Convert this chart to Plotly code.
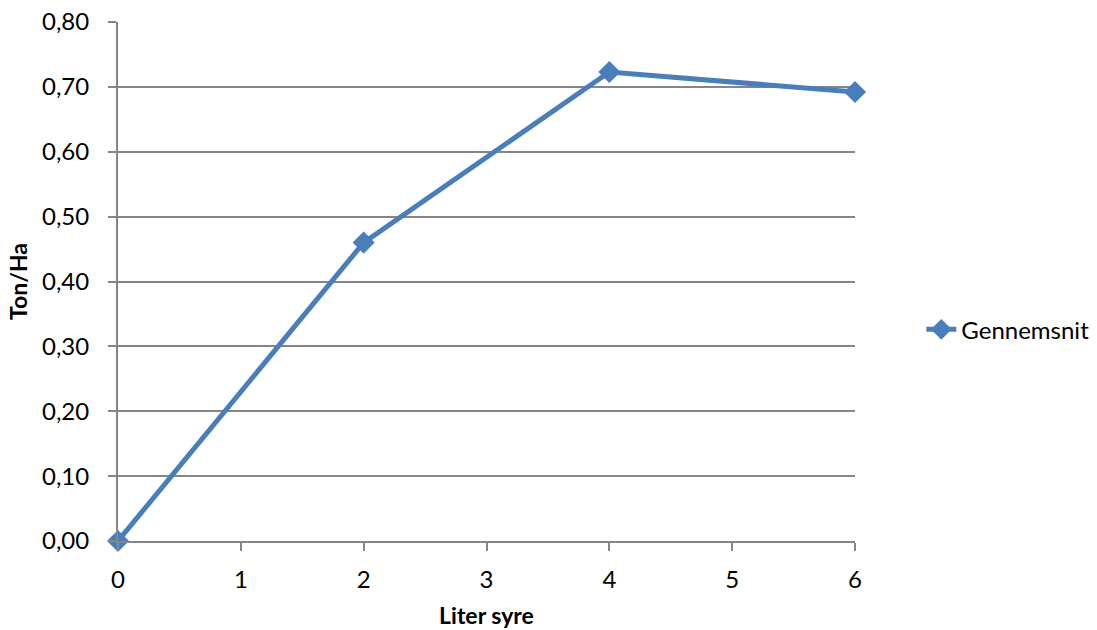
import plotly.graph_objects as go

# Yield per hectare against litres of acid applied
liter_syre = [0, 2, 4, 6]
ton_ha = [0.00, 0.46, 0.723, 0.692]
series_name = "Gennemsnit"

y_tick_vals = [0.0, 0.1, 0.2, 0.3, 0.4, 0.5, 0.6, 0.7, 0.8]
y_tick_text = ["0,00", "0,10", "0,20", "0,30", "0,40", "0,50", "0,60", "0,70", "0,80"]
x_tick_vals = [0, 1, 2, 3, 4, 5, 6]

line_color = "#4a7ebb"
grid_color = "#868686"
font_family = "Lato, 'Open Sans', sans-serif"

fig = go.Figure()
fig.add_trace(go.Scatter(
    x=liter_syre,
    y=ton_ha,
    mode="lines+markers",
    name=series_name,
    line=dict(color=line_color, width=5),
    marker=dict(symbol="diamond", size=17, color=line_color),
    cliponaxis=False,
))

fig.update_layout(
    width=1097,
    height=630,
    margin=dict(l=118, r=242, t=22, b=89, autoexpand=False),
    paper_bgcolor="white",
    plot_bgcolor="white",
    font=dict(family=font_family, size=24, color="#000000"),
    showlegend=True,
    legend=dict(
        x=1.09, y=0.407, xanchor="left", yanchor="middle",
        font=dict(size=24, color="#000000"),
        bgcolor="rgba(0,0,0,0)",
    ),
    xaxis=dict(
        range=[0, 6],
        tickvals=x_tick_vals,
        automargin=False,
        showgrid=False,
        zeroline=False,
        showline=True,
        linecolor=grid_color,
        linewidth=2,
        ticks="outside",
        ticklen=8,
        tickwidth=2,
        tickcolor=grid_color,
        ticklabelstandoff=8,
        title=dict(text="<b>Liter syre</b>", font=dict(size=23), standoff=16),
    ),
    yaxis=dict(
        range=[0, 0.8],
        tickvals=y_tick_vals,
        ticktext=y_tick_text,
        automargin=False,
        showgrid=True,
        gridcolor=grid_color,
        gridwidth=2,
        zeroline=False,
        showline=True,
        linecolor=grid_color,
        linewidth=2,
        ticks="outside",
        ticklen=8,
        tickwidth=2,
        tickcolor=grid_color,
        ticklabelstandoff=14,
        title=dict(text="<b>Ton/Ha</b>", font=dict(size=23), standoff=8),
    ),
)

fig.write_html("out.html")
